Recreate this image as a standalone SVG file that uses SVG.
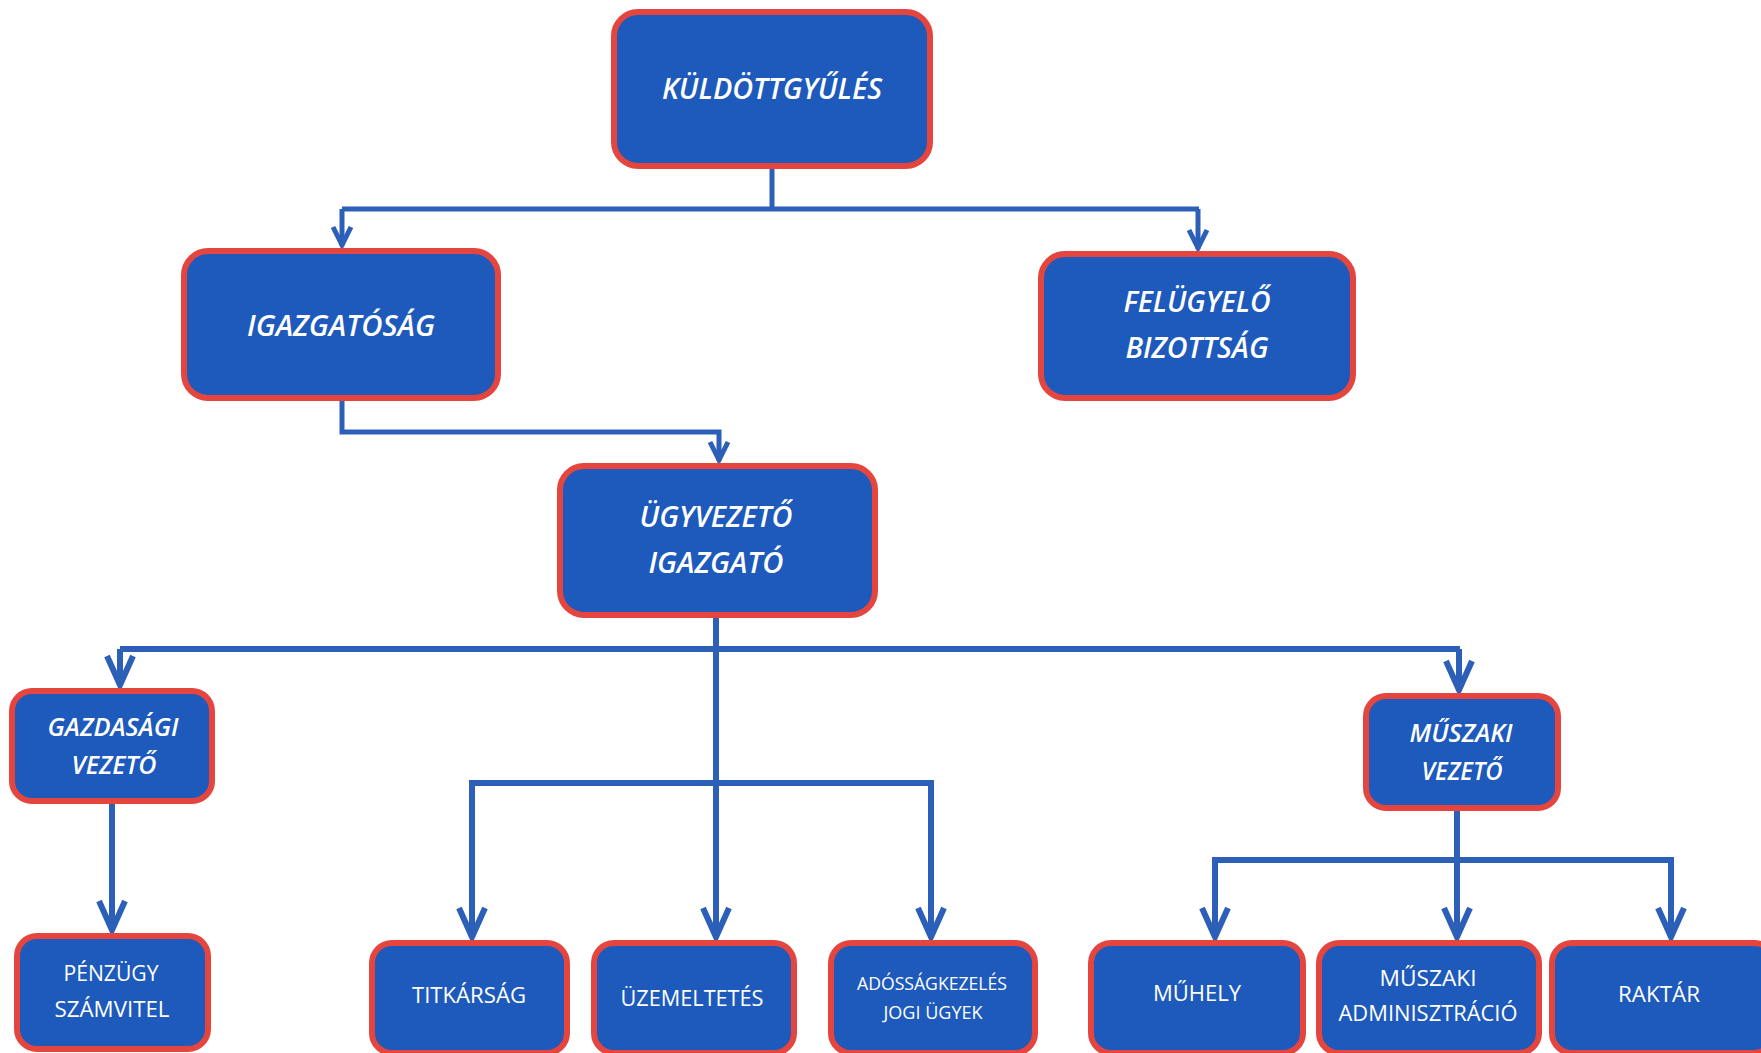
<svg xmlns="http://www.w3.org/2000/svg" width="1761" height="1053" viewBox="0 0 1761 1053">
<style>
.box{fill:#1d5abb;stroke:#e4453e;stroke-width:6}
.conn{fill:none;stroke:#2c5fb8;stroke-width:5;stroke-linejoin:miter}
.thick{stroke-width:6}
.t1{font-family:"Open Sans","Liberation Sans",sans-serif;font-style:italic;font-weight:600;fill:#ffffff;text-anchor:middle}
.t2{font-family:"Open Sans","Liberation Sans",sans-serif;font-weight:500;fill:#ffffff;text-anchor:middle}
</style>
<defs>
<marker id="arrS" markerUnits="userSpaceOnUse" viewBox="-30 -20 36 40" markerWidth="36" markerHeight="40" refX="0" refY="0" orient="auto">
<path d="M-19,-9 L-1,0 L-19,9" fill="none" stroke="#2c5fb8" stroke-width="5" stroke-linejoin="miter"/>
</marker>
<marker id="arrL" markerUnits="userSpaceOnUse" viewBox="-40 -25 46 50" markerWidth="46" markerHeight="50" refX="0" refY="0" orient="auto">
<path d="M-30,-13 L-1,0 L-30,13" fill="none" stroke="#2c5fb8" stroke-width="6" stroke-linejoin="miter"/>
</marker>
</defs>
<rect width="1761" height="1053" fill="#ffffff"/>
<g id="connectors">
<path class="conn" d="M772,167 V209"/>
<path class="conn" d="M342,209 H1199"/>
<path class="conn" d="M342,209 V246" marker-end="url(#arrS)"/>
<path class="conn" d="M1198,209 V249" marker-end="url(#arrS)"/>
<path class="conn" d="M342,399 V432 H719 V461" marker-end="url(#arrS)"/>
<path class="conn thick" d="M716,616 V938" marker-end="url(#arrL)"/>
<path class="conn thick" d="M120,649 H1460"/>
<path class="conn thick" d="M120,649 V686" marker-end="url(#arrL)"/>
<path class="conn thick" d="M1459,649 V691" marker-end="url(#arrL)"/>
<path class="conn thick" d="M112,802 V931" marker-end="url(#arrL)"/>
<path class="conn thick" d="M472,938 V783 H931 V938" marker-end="url(#arrL)"/>
<path class="conn thick" d="M472,783 V938" marker-end="url(#arrL)"/>
<path class="conn thick" d="M1457,809 V938" marker-end="url(#arrL)"/>
<path class="conn thick" d="M1215,938 V860 H1671 V938" marker-end="url(#arrL)"/>
<path class="conn thick" d="M1215,860 V938" marker-end="url(#arrL)"/>
</g>
<g id="kuldottgyules">
<rect class="box" x="614" y="12" width="316" height="154" rx="24"/>
<text class="t1" x="772" y="99" font-size="28" textLength="220" lengthAdjust="spacingAndGlyphs">KÜLDÖTTGYŰLÉS</text>
</g>
<g id="igazgatosag">
<rect class="box" x="184" y="251" width="314" height="147" rx="24"/>
<text class="t1" x="341" y="336" font-size="28" textLength="188" lengthAdjust="spacingAndGlyphs">IGAZGATÓSÁG</text>
</g>
<g id="felugyelo">
<rect class="box" x="1041" y="254" width="312" height="144" rx="24"/>
<text class="t1" x="1197" y="312" font-size="28" textLength="147" lengthAdjust="spacingAndGlyphs">FELÜGYELŐ</text>
<text class="t1" x="1197" y="358" font-size="28" textLength="143" lengthAdjust="spacingAndGlyphs">BIZOTTSÁG</text>
</g>
<g id="ugyvezeto">
<rect class="box" x="560" y="466" width="315" height="149" rx="24"/>
<text class="t1" x="716" y="527" font-size="28" textLength="153" lengthAdjust="spacingAndGlyphs">ÜGYVEZETŐ</text>
<text class="t1" x="716" y="573" font-size="28" textLength="135" lengthAdjust="spacingAndGlyphs">IGAZGATÓ</text>
</g>
<g id="gazdasagi">
<rect class="box" x="12" y="691" width="200" height="110" rx="20"/>
<text class="t1" x="113" y="736" font-size="25" textLength="131" lengthAdjust="spacingAndGlyphs">GAZDASÁGI</text>
<text class="t1" x="114" y="774" font-size="25" textLength="85" lengthAdjust="spacingAndGlyphs">VEZETŐ</text>
</g>
<g id="muszaki-vezeto">
<rect class="box" x="1366" y="696" width="192" height="112" rx="20"/>
<text class="t1" x="1461" y="742" font-size="25" textLength="103" lengthAdjust="spacingAndGlyphs">MŰSZAKI</text>
<text class="t1" x="1462" y="780" font-size="25" textLength="81" lengthAdjust="spacingAndGlyphs">VEZETŐ</text>
</g>
<g id="penzugy">
<rect class="box" x="17" y="936" width="191" height="113" rx="20"/>
<text class="t2" x="111" y="981" font-size="21" textLength="95" lengthAdjust="spacingAndGlyphs">PÉNZÜGY</text>
<text class="t2" x="112" y="1017" font-size="21" textLength="115" lengthAdjust="spacingAndGlyphs">SZÁMVITEL</text>
</g>
<g id="titkarsag">
<rect class="box" x="372" y="943" width="195" height="110" rx="20"/>
<text class="t2" x="469" y="1003" font-size="21" textLength="114" lengthAdjust="spacingAndGlyphs">TITKÁRSÁG</text>
</g>
<g id="uzemeltetes">
<rect class="box" x="594" y="943" width="200" height="110" rx="20"/>
<text class="t2" x="692" y="1006" font-size="21" textLength="143" lengthAdjust="spacingAndGlyphs">ÜZEMELTETÉS</text>
</g>
<g id="adossagkezeles">
<rect class="box" x="831" y="943" width="204" height="110" rx="20"/>
<text class="t2" x="932" y="990" font-size="18" textLength="150" lengthAdjust="spacingAndGlyphs">ADÓSSÁGKEZELÉS</text>
<text class="t2" x="933" y="1019" font-size="18" textLength="99" lengthAdjust="spacingAndGlyphs">JOGI ÜGYEK</text>
</g>
<g id="muhely">
<rect class="box" x="1091" y="943" width="212" height="110" rx="20"/>
<text class="t2" x="1197" y="1001" font-size="21" textLength="88" lengthAdjust="spacingAndGlyphs">MŰHELY</text>
</g>
<g id="muszaki-adminisztracio">
<rect class="box" x="1319" y="943" width="220" height="110" rx="20"/>
<text class="t2" x="1428" y="986" font-size="21" textLength="97" lengthAdjust="spacingAndGlyphs">MŰSZAKI</text>
<text class="t2" x="1428" y="1021" font-size="21" textLength="179" lengthAdjust="spacingAndGlyphs">ADMINISZTRÁCIÓ</text>
</g>
<g id="raktar">
<rect class="box" x="1552" y="943" width="222" height="110" rx="20"/>
<text class="t2" x="1659" y="1002" font-size="21" textLength="82" lengthAdjust="spacingAndGlyphs">RAKTÁR</text>
</g>
</svg>
